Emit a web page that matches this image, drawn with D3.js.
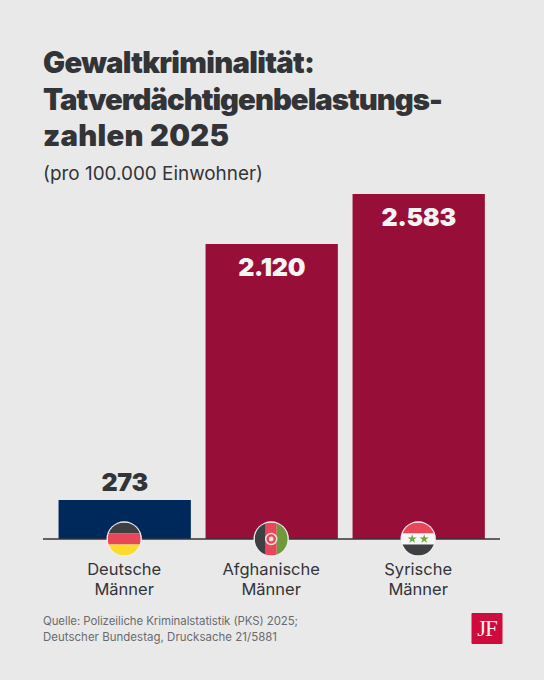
<!DOCTYPE html>
<html>
<head>
<meta charset="utf-8">
<script src="https://cdn.jsdelivr.net/npm/d3@7"></script>
<style>
  html, body { margin: 0; padding: 0; background: #e9e9e9; }
  svg { display: block; font-family: "Inter", "Liberation Sans", sans-serif; }
</style>
</head>
<body>
<div id="chart"></div>
<script>
// chart data
const categories = ["Deutsche", "Afghanische", "Syrische"];
const values = [273, 2120, 2583];
const valueLabels = ["273", "2.120", "2.583"];
const titleLines = ["Gewaltkriminalität:", "Tatverdächtigenbelastungs-", "zahlen 2025"];
const subtitle = "(pro 100.000 Einwohner)";
const sourceLines = ["Quelle: Polizeiliche Kriminalstatistik (PKS) 2025;", "Deutscher Bundestag, Drucksache 21/5881"];

const width = 544, height = 680;
const ink = "#333438";

// line widths measured on the original, the font here is not quite the same
const titleWidths = [272, 400, 186];
const sourceWidths = [255, 234];

const svg = d3.select("#chart").append("svg")
    .attr("width", width)
    .attr("height", height)
    .attr("viewBox", [0, 0, width, height]);

svg.append("rect").attr("width", width).attr("height", height).attr("fill", "#e9e9e9");

// Set X
const x = d3.scaleBand()
    .domain(categories)
    .range([51.2, 492.2])
    .paddingInner(0.1)
    .paddingOuter(0.05);

// Set Y. The bars in the original are not strictly proportional, so the scale has one stop per value
const y = d3.scaleLinear()
    .domain([0, values[0], values[1], values[2]])
    .range([539, 500, 244, 194]);

// title
svg.append("g").selectAll("text")
    .data(titleLines)
    .join("text")
    .attr("x", 43)
    .attr("y", (d, i) => 73 + i * 36.5)
    .attr("font-size", 29.3)
    .attr("font-weight", 900)
    .attr("textLength", (d, i) => titleWidths[i])
    .attr("lengthAdjust", "spacing")
    .attr("fill", ink)
    .text(d => d);

svg.append("text")
    .attr("x", 43)
    .attr("y", 180)
    .attr("font-size", 18.9)
    .attr("textLength", 220)
    .attr("fill", ink)
    .text(subtitle);

// bars
svg.append("g").selectAll("rect")
    .data(values)
    .join("rect")
    .attr("x", (d, i) => x(categories[i]))
    .attr("y", d => y(d))
    .attr("width", x.bandwidth())
    .attr("height", d => y(0) - y(d))
    .attr("fill", (d, i) => i === 0 ? "#00295b" : "#970f38");

// baseline
svg.append("line")
    .attr("x1", 43).attr("x2", 500)
    .attr("y1", y(0)).attr("y2", y(0))
    .attr("stroke", ink)
    .attr("stroke-width", 1.4);

// value labels
svg.append("g").selectAll("text")
    .data(values)
    .join("text")
    .attr("x", (d, i) => x(categories[i]) + x.bandwidth() / 2)
    .attr("y", (d, i) => i === 0 ? y(d) - 9 : y(d) + 32)
    .attr("text-anchor", "middle")
    .attr("font-size", 25)
    .attr("font-weight", 900)
    .attr("letter-spacing", -0.3)
    .attr("fill", (d, i) => i === 0 ? ink : "#f4f4f4")
    .text((d, i) => valueLabels[i]);

// category labels
const labels = svg.append("g").selectAll("text")
    .data(categories)
    .join("text")
    .attr("x", d => x(d) + x.bandwidth() / 2 - 0.5)
    .attr("y", 575)
    .attr("text-anchor", "middle")
    .attr("font-size", 16.5)
    .attr("fill", ink);
labels.append("tspan").text(d => d);
labels.append("tspan")
    .attr("x", d => x(d) + x.bandwidth() / 2 - 0.5)
    .attr("dy", 20)
    .text("Männer");

// flags
const r = 16.5;
const defs = svg.append("defs");
categories.forEach((c, i) => {
    defs.append("clipPath").attr("id", "flag" + i)
        .append("circle").attr("r", r);
});

const flags = svg.append("g").selectAll("g")
    .data(categories)
    .join("g")
    .attr("transform", d => `translate(${x(d) + x.bandwidth() / 2 - 0.5},${y(0)})`);

flags.append("circle").attr("r", r + 1.2).attr("fill", "#efefef");

function stripes(g, colors, vertical) {
    const s = 2 * r / colors.length;
    g.selectAll("rect")
        .data(colors)
        .join("rect")
        .attr("x", (d, i) => vertical ? -r + i * s : -r)
        .attr("y", (d, i) => vertical ? -r : -r + i * s)
        .attr("width", vertical ? s : 2 * r)
        .attr("height", vertical ? 2 * r : s)
        .attr("fill", d => d);
}

const germany = flags.filter((d, i) => i === 0).append("g").attr("clip-path", "url(#flag0)");
stripes(germany, ["#3d3f43", "#e8475a", "#fbdc2c"], false);

const afghan = flags.filter((d, i) => i === 1).append("g").attr("clip-path", "url(#flag1)");
stripes(afghan, ["#3d3f43", "#e8475a", "#6f9a3c"], true);
afghan.append("circle").attr("r", 5.5).attr("fill", "none").attr("stroke", "#f3dcdc").attr("stroke-width", 1.5);
afghan.append("circle").attr("r", 2.4).attr("fill", "#f3dcdc");

const syria = flags.filter((d, i) => i === 2).append("g").attr("clip-path", "url(#flag2)");
stripes(syria, ["#e8475a", "#f7f7f7", "#3d3f43"], false);
syria.selectAll("path")
    .data([-6, 6])
    .join("path")
    .attr("transform", d => `translate(${d},0)`)
    .attr("d", d3.symbol(d3.symbolStar, 26))
    .attr("fill", "#6fa544");

// source
svg.append("g").selectAll("text")
    .data(sourceLines)
    .join("text")
    .attr("x", 43)
    .attr("y", (d, i) => 625 + i * 15.5)
    .attr("font-size", 11.45)
    .attr("textLength", (d, i) => sourceWidths[i])
    .attr("fill", "#6a6b6f")
    .text(d => d);

// logo
svg.append("rect")
    .attr("x", 471.5).attr("y", 613)
    .attr("width", 31).attr("height", 31)
    .attr("rx", 1)
    .attr("fill", "#cf0a3c");
svg.append("text")
    .attr("x", 487).attr("y", 636)
    .attr("text-anchor", "middle")
    .attr("font-family", "Liberation Serif, serif")
    .attr("font-size", 23)
    .attr("letter-spacing", -1)
    .attr("fill", "#f6f0f0")
    .text("JF");
</script>
</body>
</html>
